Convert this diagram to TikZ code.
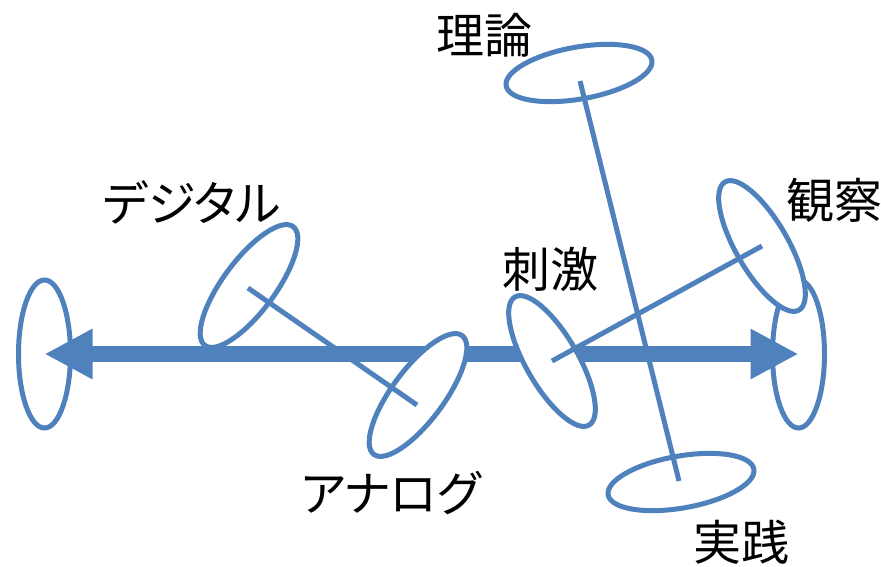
\documentclass[tikz,border=0pt]{standalone}
\usepackage{fontspec}
\newfontfamily\jp{Noto Sans CJK JP}
\newfontfamily\jpp[RawFeature=+palt]{Noto Sans CJK JP}
\usetikzlibrary{arrows.meta,shapes.geometric,calc}
\definecolor{pblue}{HTML}{4F81BD}
\begin{document}
\begin{tikzpicture}[x=1pt,y=-1pt,
  ring/.style={ellipse, draw=pblue, fill=white, line width=5pt, minimum width=52pt, minimum height=148pt, inner sep=0pt, outer sep=0pt},
  link/.style={draw=pblue, line width=5pt},
  lbl/.style={font=\jp\fontsize{48}{48}\selectfont, text=black, inner sep=0pt},
  klbl/.style={font=\jpp\fontsize{48}{48}\selectfont, text=black, inner sep=0pt},
  axis/.style={draw=pblue, line width=16pt, {Triangle[length=48pt,width=47pt]}-{Triangle[length=48pt,width=47pt]}}]
\useasboundingbox (0,0) rectangle (881,566);
% end ellipses
\node[ring] (L) at (44.5,354) {};
\node[ring] (R) at (798.5,354) {};
% main axis
\draw[axis] (L.center) -- (R.center);
% tilted ellipses
\node[ring, rotate=-36.6] (dig) at (249,286) {};
\node[ring, rotate=-36.6] (ana) at (418,395) {};
\node[ring, rotate=30] (sti) at (552,361) {};
\node[ring, rotate=30] (obs) at (762,246) {};
\node[ring, rotate=-80] (the) at (579,73) {};
\node[ring, rotate=-80] (pra) at (681,482) {};
% connecting lines
\draw[link] ($(dig.center)+(-1,2)$) -- ($(ana.center)+(-1,10)$);
\draw[link] (sti.center) -- (obs.center);
\draw[link] ($(the.center)+(1,8)$) -- ($(pra.center)+(-2,-1)$);
% labels
\node[lbl] (tThe) at (484,35) {理論};
\node[klbl] (tDig) at (192,202) {デジタル};
\node[klbl] (tAna) at (391,493) {アナログ};
\node[lbl] (tSti) at (550,269) {刺激};
\node[lbl] (tObs) at (834,200) {観察};
\node[lbl] (tPra) at (741,542) {実践};
\end{tikzpicture}
\end{document}
